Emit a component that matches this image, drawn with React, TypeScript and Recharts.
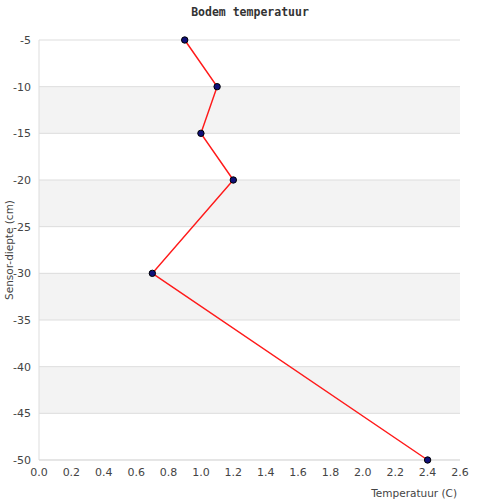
import { ScatterChart, Scatter, XAxis, YAxis, CartesianGrid } from "recharts";

const temperatures = [0.9, 1.1, 1.0, 1.2, 0.7, 2.4];
const depths = [-5, -10, -15, -20, -30, -50];
const xTicks = [0, 0.2, 0.4, 0.6, 0.8, 1.0, 1.2, 1.4, 1.6, 1.8, 2.0, 2.2, 2.4, 2.6];
const yTicks = [-5, -10, -15, -20, -25, -30, -35, -40, -45, -50];

const points = depths.map((d, i) => ({ temp: temperatures[i], depth: d }));

const tickStyle = { fill: "#444", fontSize: 11, fontFamily: "DejaVu Sans" };
const labelStyle = { fill: "#444", fontSize: 10.5, fontFamily: "DejaVu Sans" };

// small navy dot with dark outline
const Dot = (props: any) => (
  <circle cx={props.cx} cy={props.cy} r={3.2} fill="#10107a" stroke="#000" strokeWidth={1} />
);

export default function App() {
  return (
    <div style={{ position: "absolute", left: 0, top: 0, width: 500, height: 500, background: "#fff" }}>
      <div
        style={{
          position: "absolute",
          top: 5,
          width: 500,
          textAlign: "center",
          fontFamily: "DejaVu Sans Mono",
          fontWeight: "bold",
          fontSize: 11.5,
          color: "#333",
        }}
      >
        Bodem temperatuur
      </div>
      <ScatterChart width={500} height={500} margin={{ top: 40, right: 40, bottom: 0, left: 0 }}>
        <CartesianGrid
          stroke="#ddd"
          vertical={false}
          horizontalFill={["#fff", "#f3f3f3"]}
          fillOpacity={1}
        />
        <XAxis
          type="number"
          dataKey="temp"
          domain={[0, 2.6]}
          ticks={xTicks}
          tickFormatter={(v: number) => v.toFixed(1)}
          tick={tickStyle}
          tickLine={false}
          axisLine={{ stroke: "#ddd" }}
          height={40}
          label={{
            value: "Temperatuur (C)",
            position: "insideBottomRight",
            offset: 3,
            style: labelStyle,
          }}
        />
        <YAxis
          type="number"
          dataKey="depth"
          domain={[-50, -5]}
          ticks={yTicks}
          interval={0}
          tick={tickStyle}
          tickLine={false}
          axisLine={{ stroke: "#ddd" }}
          width={39}
          label={{
            value: "Sensor-diepte (cm)",
            angle: -90,
            position: "insideLeft",
            offset: 9,
            style: { ...labelStyle, textAnchor: "middle" },
          }}
        />
        <YAxis yAxisId="right" orientation="right" type="number" domain={[-50, -5]} width={0} tick={false} axisLine={{ stroke: "#ddd" }} />
        <Scatter
          data={points}
          shape={Dot}
          line={{ stroke: "#ff1a1a", strokeWidth: 1.5 }}
          lineType="joint"
          isAnimationActive={false}
        />
      </ScatterChart>
    </div>
  );
}
